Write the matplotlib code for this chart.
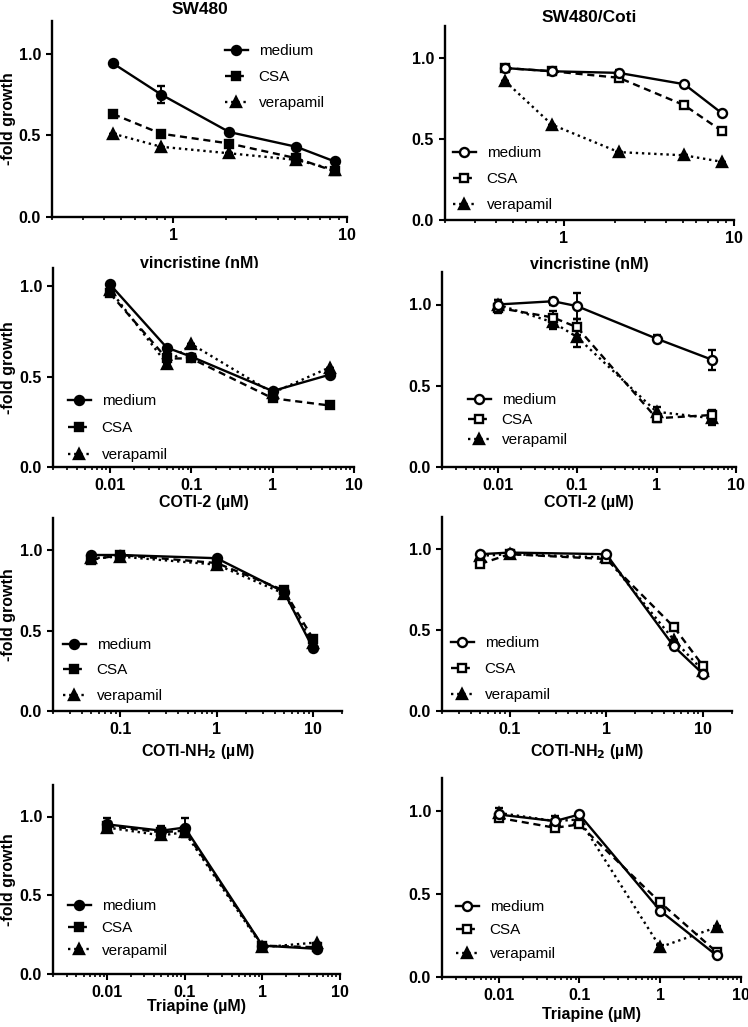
import numpy as np
import matplotlib
matplotlib.use('Agg')
from matplotlib import pyplot as plt
from matplotlib.ticker import LogLocator, NullFormatter, FixedLocator, FixedFormatter

plt.rcParams['font.family'] = ['Liberation Sans', 'DejaVu Sans']

W, H = 748, 1027

# concentrations
vcr_x = [0.45, 0.85, 2.1, 5.1, 8.5]
coti2_x = [0.01, 0.05, 0.1, 1, 5]
nh2_x = [0.05, 0.1, 1, 5, 10]
tri_x = [0.01, 0.05, 0.1, 1, 5]

series_names = ['medium', 'CSA', 'verapamil']

# SW480 / vincristine
sw_vcr_medium = [0.94, 0.75, 0.52, 0.43, 0.34]
sw_vcr_medium_err = [0.0, 0.05, 0.0, 0.0, 0.0]
sw_vcr_csa = [0.63, 0.51, 0.45, 0.36, 0.28]
sw_vcr_vera = [0.51, 0.43, 0.39, 0.35, 0.29]

# SW480/Coti / vincristine
co_vcr_medium = [0.94, 0.92, 0.91, 0.84, 0.66]
co_vcr_medium_err = [0.0, 0.0, 0.02, 0.0, 0.0]
co_vcr_csa = [0.94, 0.92, 0.88, 0.71, 0.55]
co_vcr_vera = [0.86, 0.59, 0.42, 0.40, 0.36]

# SW480 / COTI-2
sw_coti2_medium = [1.01, 0.66, 0.61, 0.42, 0.51]
sw_coti2_csa = [0.96, 0.60, 0.60, 0.38, 0.34]
sw_coti2_csa_err = [0.0, 0.03, 0.0, 0.0, 0.0]
sw_coti2_vera = [0.98, 0.57, 0.68, 0.41, 0.55]

# SW480/Coti / COTI-2
co_coti2_medium = [1.00, 1.02, 0.99, 0.79, 0.66]
co_coti2_medium_err = [0.03, 0.02, 0.08, 0.02, 0.06]
co_coti2_csa = [0.98, 0.92, 0.86, 0.30, 0.32]
co_coti2_csa_err = [0.03, 0.04, 0.05, 0.02, 0.03]
co_coti2_vera = [1.00, 0.89, 0.80, 0.34, 0.30]
co_coti2_vera_err = [0.03, 0.04, 0.06, 0.03, 0.04]

# SW480 / COTI-NH2
sw_nh2_medium = [0.97, 0.97, 0.95, 0.74, 0.39]
sw_nh2_csa = [0.94, 0.97, 0.92, 0.75, 0.45]
sw_nh2_vera = [0.95, 0.96, 0.91, 0.73, 0.42]

# SW480/Coti / COTI-NH2
co_nh2_medium = [0.97, 0.98, 0.97, 0.40, 0.23]
co_nh2_csa = [0.91, 0.97, 0.94, 0.52, 0.28]
co_nh2_vera = [0.96, 0.97, 0.95, 0.44, 0.25]

# SW480 / Triapine
sw_tri_medium = [0.95, 0.91, 0.93, 0.18, 0.16]
sw_tri_medium_err = [0.04, 0.03, 0.06, 0.02, 0.01]
sw_tri_csa = [0.94, 0.90, 0.91, 0.18, 0.17]
sw_tri_vera = [0.93, 0.88, 0.90, 0.17, 0.20]

# SW480/Coti / Triapine
co_tri_medium = [0.98, 0.94, 0.98, 0.40, 0.13]
co_tri_csa = [0.96, 0.90, 0.92, 0.45, 0.15]
co_tri_vera = [0.99, 0.94, 0.95, 0.18, 0.30]
co_tri_vera_err = [0.03, 0.03, 0.02, 0.01, 0.01]

fig = plt.figure(figsize=(W / 100, H / 100), dpi=100)

def px_axes(x0, x1, ytop, ybot):
    return fig.add_axes([x0 / W, 1 - ybot / H, (x1 - x0) / W, (ybot - ytop) / H])

styles = [dict(ls='-', marker='o', ms=6.5),
          dict(ls=(0, (3, 2)), marker='s', ms=6.3),
          dict(ls=(0, (1, 1.6)), marker='^', ms=7.2)]

def panel(box, x, ys, errs, xlim, ylim, xticks, xlabel, open_mk, leg, xlpad, ylabel=True):
    ax = px_axes(*box)
    for i in (2, 1, 0):
        st = styles[i]
        fc = 'white' if (open_mk and i < 2) else 'black'
        ax.errorbar(x, ys[i], yerr=errs[i], color='black', lw=1.7, ls=st['ls'],
                    marker=st['marker'], ms=st['ms'], mfc=fc, mec='black', mew=1.7,
                    capsize=3, elinewidth=1.4, capthick=1.4, label=series_names[i],
                    zorder=3 + (2 - i))
    ax.set_xscale('log')
    ax.set_xlim(*xlim)
    ax.set_ylim(*ylim)
    ax.xaxis.set_major_locator(FixedLocator(xticks))
    ax.xaxis.set_major_formatter(FixedFormatter([('%g' % t) for t in xticks]))
    ax.xaxis.set_minor_locator(LogLocator(base=10, subs=np.arange(2, 10)))
    ax.xaxis.set_minor_formatter(NullFormatter())
    ax.set_yticks([0, 0.5, 1.0])
    ax.set_yticklabels(['0.0', '0.5', '1.0'])
    for s in ('top', 'right'):
        ax.spines[s].set_visible(False)
    for s in ('left', 'bottom'):
        ax.spines[s].set_linewidth(1.7)
    ax.tick_params(which='major', length=4.5, width=1.5, labelsize=11.5, pad=3.5)
    ax.tick_params(which='minor', length=2.5, width=1.2)
    for lab in ax.get_xticklabels() + ax.get_yticklabels():
        lab.set_fontweight('bold')
    ax.set_xlabel(xlabel, fontsize=11.5, fontweight='bold', labelpad=xlpad)
    if ylabel:
        ax.set_ylabel('-fold growth', fontsize=11.5, fontweight='bold')
        ax.yaxis.set_label_coords((16 - box[0]) / (box[1] - box[0]), 0.5)
    hx, hy, spacing = leg
    handles, labels = ax.get_legend_handles_labels()
    order = [labels.index(n) for n in series_names]
    hs = [handles[k][0] for k in order]
    ax.legend(hs, series_names, loc='upper left',
              bbox_to_anchor=(hx / W, 1 - (hy - 5) / H), bbox_transform=fig.transFigure,
              frameon=False, fontsize=11, borderpad=0, borderaxespad=0,
              handlelength=1.5, handletextpad=0.7, labelspacing=spacing)
    return ax

z5 = [0] * 5

ax = panel((52, 347, 21, 217), vcr_x,
           [sw_vcr_medium, sw_vcr_csa, sw_vcr_vera], [sw_vcr_medium_err, z5, z5],
           (0.2, 10), (0, 1.2), [1, 10], 'vincristine (nM)', False, (225, 49, 0.8), 9.5)
ax.set_title('SW480', fontsize=12.5, fontweight='bold', pad=5)

ax = panel((445, 734, 26, 220), vcr_x,
           [co_vcr_medium, co_vcr_csa, co_vcr_vera], [co_vcr_medium_err, z5, z5],
           (0.2, 10), (0, 1.2), [1, 10], 'vincristine (nM)', True, (453, 151, 0.8), 7.5,
           ylabel=False)
ax.set_title('SW480/Coti', fontsize=12.5, fontweight='bold', pad=3)

panel((53, 354, 268, 467), coti2_x,
      [sw_coti2_medium, sw_coti2_csa, sw_coti2_vera], [z5, sw_coti2_csa_err, z5],
      (0.002, 10), (0, 1.1), [0.01, 0.1, 1, 10], 'COTI-2 (\u00b5M)', False, (68, 399, 0.85), 1.0)

panel((442, 736, 272, 467), coti2_x,
      [co_coti2_medium, co_coti2_csa, co_coti2_vera],
      [co_coti2_medium_err, co_coti2_csa_err, co_coti2_vera_err],
      (0.002, 10), (0, 1.2), [0.01, 0.1, 1, 10], 'COTI-2 (\u00b5M)', True, (468, 398, 0.4), 1.0,
      ylabel=False)

panel((53, 342, 518, 711), nh2_x,
      [sw_nh2_medium, sw_nh2_csa, sw_nh2_vera], [z5, z5, z5],
      (0.02, 20), (0, 1.2), [0.1, 1, 10], 'COTI-NH$_\\mathbf{2}$ (\u00b5M)', False, (63, 643, 0.75), 3.5)

panel((442, 732, 517, 711), nh2_x,
      [co_nh2_medium, co_nh2_csa, co_nh2_vera], [z5, z5, z5],
      (0.02, 20), (0, 1.2), [0.1, 1, 10], 'COTI-NH$_\\mathbf{2}$ (\u00b5M)', True, (451, 641, 0.8), 3.5,
      ylabel=False)

panel((53, 340, 785, 974), tri_x,
      [sw_tri_medium, sw_tri_csa, sw_tri_vera], [sw_tri_medium_err, z5, z5],
      (0.002, 10), (0, 1.2), [0.01, 0.1, 1, 10], 'Triapine (\u00b5M)', False, (68, 904, 0.55), -1.0)

panel((442, 741, 778, 977), tri_x,
      [co_tri_medium, co_tri_csa, co_tri_vera], [z5, z5, co_tri_vera_err],
      (0.002, 10), (0, 1.2), [0.01, 0.1, 1, 10], 'Triapine (\u00b5M)', True, (456, 905, 0.62), 2.5,
      ylabel=False)

fig.savefig('out.png', dpi=100)
